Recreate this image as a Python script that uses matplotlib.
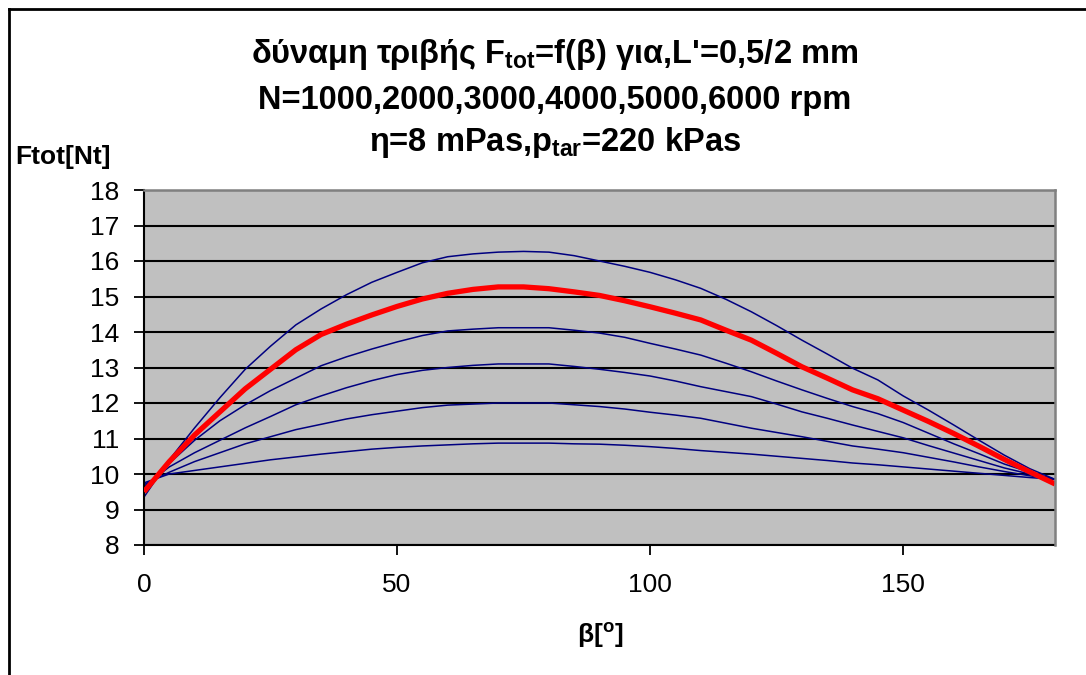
import matplotlib
matplotlib.use("Agg")
import matplotlib.pyplot as plt
from matplotlib.lines import Line2D

plt.rcParams['font.family'] = ['Liberation Sans', 'DejaVu Sans']
plt.rcParams['mathtext.default'] = 'regular'

# friction angle beta [deg]
beta = [0, 5, 10, 15, 20, 25, 30, 35, 40, 45, 50, 55, 60, 65, 70, 75, 80, 85, 90,
        95, 100, 105, 110, 115, 120, 125, 130, 135, 140, 145, 150, 155, 160, 165,
        170, 175, 180]

# total friction force Ftot [N] for each rotational speed
f_1000 = [9.75, 10.0, 10.1, 10.2, 10.3, 10.4, 10.48, 10.56, 10.63, 10.7, 10.75, 10.79,
          10.82, 10.85, 10.87, 10.87, 10.87, 10.85, 10.84, 10.81, 10.77, 10.72, 10.66,
          10.61, 10.56, 10.5, 10.44, 10.38, 10.31, 10.26, 10.2, 10.14, 10.08, 10.02,
          9.96, 9.9, 9.85]
f_2000 = [9.7, 10.05, 10.35, 10.6, 10.85, 11.05, 11.25, 11.4, 11.55, 11.67, 11.77, 11.87,
          11.94, 11.97, 12.0, 12.0, 12.0, 11.95, 11.9, 11.83, 11.74, 11.66, 11.57,
          11.43, 11.29, 11.17, 11.05, 10.92, 10.79, 10.7, 10.6, 10.47, 10.34, 10.2,
          10.07, 9.95, 9.85]
f_3000 = [9.65, 10.2, 10.6, 10.95, 11.3, 11.62, 11.95, 12.2, 12.43, 12.63, 12.8, 12.92,
          13.0, 13.06, 13.1, 13.1, 13.1, 13.03, 12.95, 12.86, 12.76, 12.62, 12.46,
          12.32, 12.18, 11.97, 11.75, 11.57, 11.38, 11.2, 11.02, 10.8, 10.59, 10.38,
          10.17, 10.0, 9.85]
f_4000 = [9.6, 10.3, 10.95, 11.5, 11.95, 12.35, 12.7, 13.05, 13.3, 13.52, 13.72, 13.9,
          14.03, 14.08, 14.12, 14.12, 14.12, 14.05, 13.97, 13.85, 13.68, 13.52, 13.35,
          13.12, 12.88, 12.62, 12.37, 12.13, 11.9, 11.7, 11.45, 11.15, 10.85, 10.57,
          10.28, 10.05, 9.85]
f_5000 = [9.5, 10.35, 11.1, 11.75, 12.4, 12.95, 13.5, 13.93, 14.22, 14.48, 14.72, 14.93,
          15.09, 15.2, 15.27, 15.27, 15.22, 15.13, 15.03, 14.88, 14.71, 14.53, 14.34,
          14.05, 13.77, 13.4, 13.02, 12.7, 12.37, 12.12, 11.8, 11.48, 11.14, 10.78,
          10.41, 10.06, 9.72]
f_6000 = [9.35, 10.4, 11.3, 12.15, 12.95, 13.6, 14.2, 14.65, 15.05, 15.4, 15.68, 15.95,
          16.12, 16.2, 16.25, 16.27, 16.25, 16.15, 16.0, 15.85, 15.68, 15.47, 15.23,
          14.92, 14.57, 14.18, 13.77, 13.38, 12.98, 12.65, 12.2, 11.8, 11.38, 10.95,
          10.53, 10.15, 9.85]

navy_series = [f_1000, f_2000, f_3000, f_4000, f_6000]
highlight = f_5000

y_ticks = list(range(8, 19))
x_ticks = [0, 50, 100, 150]

title_lines = ["δύναμη τριβής F$_{tot}$=f(β) για,L'=0,5/2 mm",
               "N=1000,2000,3000,4000,5000,6000 rpm",
               "η=8 mPas,p$_{tar}$=220 kPas"]

W, H = 1086, 675
fig = plt.figure(figsize=(W / 100, H / 100), dpi=100)
fig.patch.set_facecolor('white')

ax = fig.add_axes([144 / W, 1 - 545 / H, 911 / W, 355 / H])
ax.set_facecolor('#C0C0C0')

for s in navy_series:
    ax.plot(beta, s, color='#000080', lw=1.1, solid_joinstyle='round', zorder=2)
ax.plot(beta, highlight, color='#FF0000', lw=3.8, solid_joinstyle='round',
        solid_capstyle='butt', zorder=3)

ax.set_xlim(0, 180)
ax.set_ylim(8, 18)
ax.set_xticks(x_ticks)
ax.set_yticks(y_ticks)
ax.set_axisbelow(True)
ax.yaxis.grid(True, color='black', lw=1.5)
ax.xaxis.grid(False)

for side in ('left', 'bottom'):
    ax.spines[side].set_color('black')
    ax.spines[side].set_linewidth(1.5)
for side in ('top', 'right'):
    ax.spines[side].set_color('#808080')
    ax.spines[side].set_linewidth(1.8)
    ax.spines[side].set_zorder(4)

ax.tick_params(axis='both', direction='out', length=7, width=1.3, color='black',
               labelsize=19, pad=11)
ax.tick_params(axis='x', pad=13)

# chart title, three centred lines
for txt, yc in zip(title_lines, (55, 100, 143)):
    fig.text(555 / W, 1 - yc / H, txt, ha='center', va='center',
             fontsize=23.5, fontweight='bold')

fig.text(15 / W, 1 - 157 / H, 'Ftot[Nt]', ha='left', va='center',
         fontsize=19, fontweight='bold')
fig.text(600 / W, 1 - 636 / H, 'β[$^{o}$]', ha='center', va='center',
         fontsize=19, fontweight='bold')

# outer chart frame (top and left edges)
fig.add_artist(Line2D([9 / W, 1.0], [1 - 9 / H, 1 - 9 / H], transform=fig.transFigure,
                      color='black', lw=2))
fig.add_artist(Line2D([9 / W, 9 / W], [1 - 9 / H, 0], transform=fig.transFigure,
                      color='black', lw=2))

fig.savefig('out.png', dpi=100)
